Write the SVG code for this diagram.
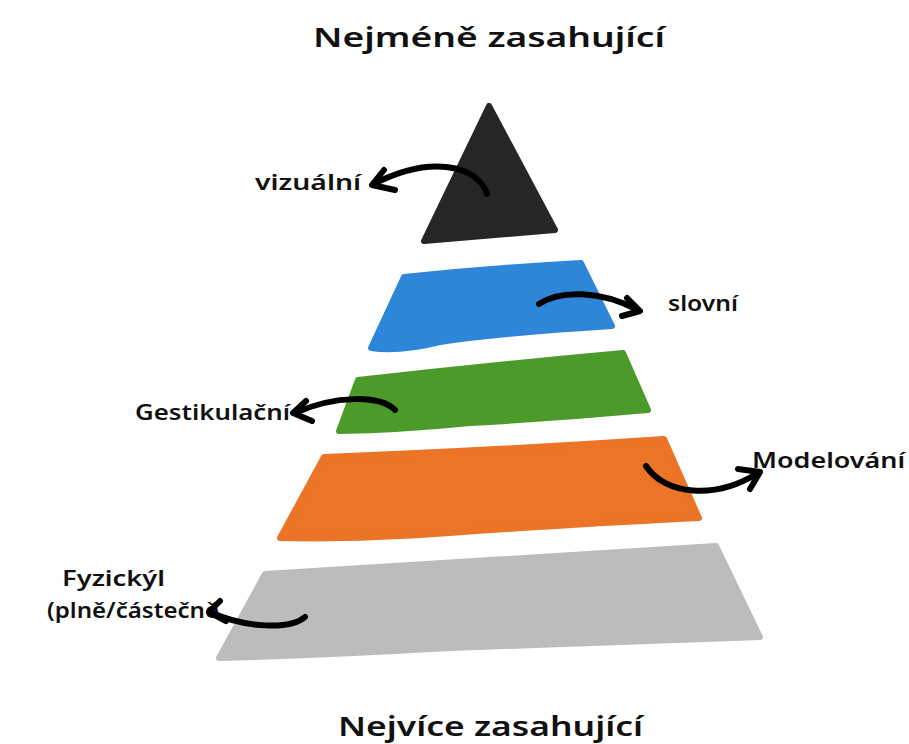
<svg xmlns="http://www.w3.org/2000/svg" width="909" height="744" viewBox="0 0 909 744">
<defs>
<style>
.t{font-family:"Noto Sans","DejaVu Sans",sans-serif;fill:#111;font-weight:600;}
.title{font-size:27px;}
.lbl{font-size:21px;}
.band{stroke-linejoin:round;stroke-width:6;}
.arr{fill:none;stroke:#000;stroke-width:6;stroke-linecap:round;stroke-linejoin:round;}
</style>
</defs>
<rect width="909" height="744" fill="#fff"/>
<text class="t title" x="313" y="47" textLength="352" lengthAdjust="spacingAndGlyphs">Nejméně zasahující</text>
<text class="t title" x="338" y="736" textLength="305" lengthAdjust="spacingAndGlyphs">Nejvíce zasahující</text>

<g id="level-visual">
<path class="band" d="M489,106 L555,230 L424,241 Z" fill="#262626" stroke="#262626"/>
<text class="t lbl" x="255" y="190" textLength="106" lengthAdjust="spacingAndGlyphs">vizuální</text>
</g>
<g id="level-verbal">
<path class="band" d="M404,277 Q490,268 581,263 L612,326 Q500,333 440,342 Q400,352 371,348 Z" fill="#2E86D9" stroke="#2E86D9"/>
<text class="t lbl" x="668" y="311" textLength="70" lengthAdjust="spacingAndGlyphs">slovní</text>
</g>
<g id="level-gesture">
<path class="band" d="M358,380 Q490,365 623,353 L648,410 Q560,418 470,423 Q400,430 339,431 Z" fill="#4C9A2A" stroke="#4C9A2A"/>
<text class="t lbl" x="135" y="420" textLength="155" lengthAdjust="spacingAndGlyphs">Gestikulační</text>
</g>
<g id="level-model">
<path class="band" d="M324,457 Q500,450 664,439 L699,518 Q560,525 450,533 Q350,540 280,538 Z" fill="#EC7426" stroke="#EC7426"/>
<text class="t lbl" x="752" y="468" textLength="153" lengthAdjust="spacingAndGlyphs">Modelování</text>
</g>
<g id="level-physical">
<path class="band" d="M265,574 Q500,560 716,546 L760,637 Q600,642 450,648 Q330,655 219,658 Z" fill="#BDBBBC" stroke="#BDBBBC"/>
<text class="t lbl" x="62" y="586" textLength="103" lengthAdjust="spacingAndGlyphs">Fyzickýl</text>
<text class="t lbl" x="47" y="618" textLength="172" lengthAdjust="spacingAndGlyphs">(plně/částečně</text>
</g>

<g id="connectors">
<path class="arr" d="M487,194 C478,165 430,155 374,184"/>
<path class="arr" d="M384,170 L372,185 L395,190"/>
<path class="arr" d="M539,304 C560,290 600,290 638,310"/>
<path class="arr" d="M627,298 L640,311 L622,316"/>
<path class="arr" d="M395,410 C380,395 335,395 295,413"/>
<path class="arr" d="M306,401 L293,413 L312,421"/>
<path class="arr" d="M646,466 C665,495 715,500 758,473"/>
<path class="arr" d="M738,469 L760,472 L750,489"/>
<path class="arr" d="M305,617 C290,630 245,628 210,612"/>
<path class="arr" d="M220,601 L209,612 L226,621"/>
</g>
</svg>
